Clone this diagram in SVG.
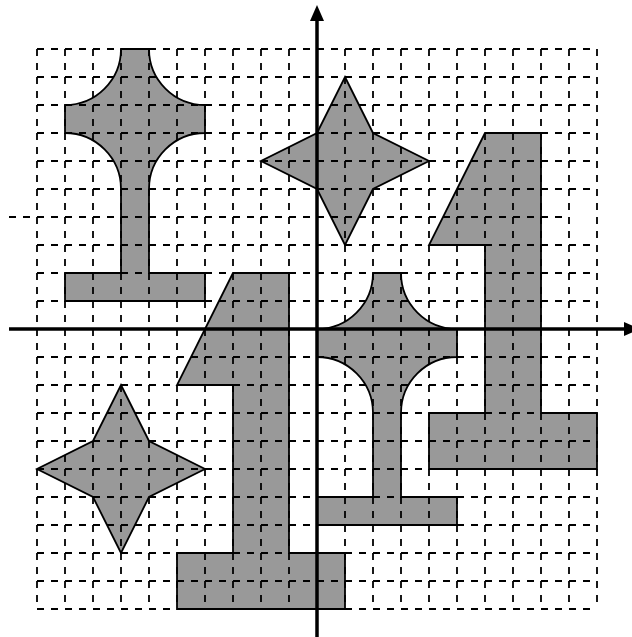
<svg xmlns="http://www.w3.org/2000/svg" width="632" height="637" viewBox="0 0 632 637">
<style>
.shape{fill:#999999;stroke:#000;stroke-width:1.8;stroke-linejoin:miter}
.grid{fill:none;stroke:#000;stroke-width:1.8;stroke-dasharray:7 7}
.axis{fill:none;stroke:#000;stroke-width:3.5}
.head{fill:#000;stroke:none}
</style>
<rect width="632" height="637" fill="#fff"/>
<g id="shape-i-topleft"><path class="shape" d="M121,49 H149 A56,56 0 0 0 205,105 V133 A56,56 0 0 0 149,189 V273 H205 V301 H65 V273 H121 V189 A56,56 0 0 0 65,133 V105 A56,56 0 0 0 121,49 Z"/></g>
<g id="star-top"><path class="shape" d="M345,77 L373,133 L429,161 L373,189 L345,245 L317,189 L261,161 L317,133 Z"/></g>
<g id="shape-one-right"><path class="shape" d="M485,133 H541 V413 H597 V469 H429 V413 H485 V245 H429 Z"/></g>
<g id="shape-one-center"><path class="shape" d="M233,273 H289 V553 H345 V609 H177 V553 H233 V385 H177 Z"/></g>
<g id="shape-i-center"><path class="shape" d="M373,273 H401 A56,56 0 0 0 457,329 V357 A56,56 0 0 0 401,413 V497 H457 V525 H317 V497 H373 V413 A56,56 0 0 0 317,357 V329 A56,56 0 0 0 373,273 Z"/></g>
<g id="star-bottomleft"><path class="shape" d="M121,385 L149,441 L205,469 L149,497 L121,553 L93,497 L37,469 L93,441 Z"/></g>
<g id="grid">
<path class="grid" d="M37,49V609M65,49V609M93,49V609M121,49V609M149,49V609M177,49V609M205,49V609M233,49V609M261,49V609M289,49V609M317,49V609M345,49V609M373,49V609M401,49V609M429,49V609M457,49V609M485,49V609M513,49V609M541,49V609M569,49V609M597,49V609"/>
<path class="grid" d="M37,49H597M37,77H597M37,105H597M37,133H597M37,161H597M37,189H597M9,217H569M37,245H597M37,273H597M37,301H597M37,329H597M37,357H597M37,385H597M37,413H597M37,441H597M37,469H597M37,497H597M37,525H597M37,553H597M37,581H597M37,609H597"/>
</g>
<g id="connectors">
<line class="axis" x1="317" y1="637" x2="317" y2="18"/>
<polygon class="head" points="317,5 310,21 324,21"/>
<line class="axis" x1="9" y1="329" x2="626" y2="329"/>
<polygon class="head" points="640,329 624,322 624,336"/>
</g>
</svg>
